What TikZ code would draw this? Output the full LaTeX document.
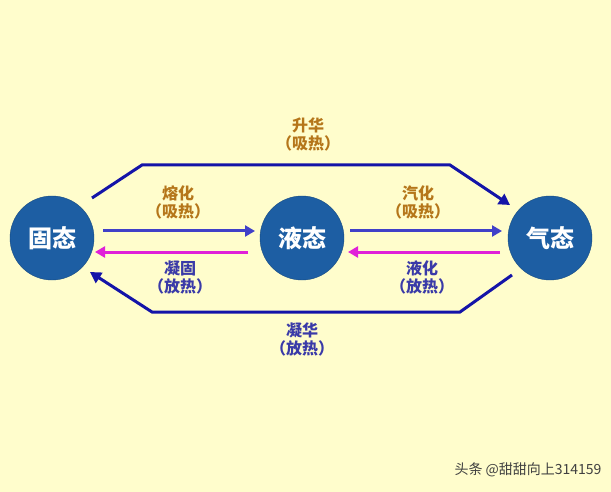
\documentclass[tikz,border=0pt]{standalone}
\usepackage{fontspec}
\newfontfamily\cjk{Noto Sans CJK SC}
\usetikzlibrary{arrows.meta}
\definecolor{bg}{HTML}{FFFDCC}
\definecolor{ball}{HTML}{1D5EA3}
\definecolor{absorb}{HTML}{B5761A}
\definecolor{release}{HTML}{3A3AA8}
\definecolor{arr}{HTML}{4040C8}
\definecolor{outer}{HTML}{1414A8}
\definecolor{back}{HTML}{E020D8}
\tikzset{
  state/.style={circle,fill=ball,draw=ball!80!black,minimum size=84pt,text=white,font=\cjk\fontsize{24}{26}\selectfont\bfseries},
  lab/.style={font=\cjk\fontsize{16}{18}\selectfont\bfseries,align=center},
  fwd/.style={arr,line width=3pt,-{Triangle[length=10pt,width=11pt]}},
  bwd/.style={back,line width=3pt,-{Triangle[length=10pt,width=11pt]}},
  loop/.style={outer,line width=3pt,-{Triangle[length=11pt,width=12pt]}}
}
\begin{document}
\begin{tikzpicture}[x=1pt,y=-1pt]
\fill[bg] (0,0) rectangle (611,492);
\useasboundingbox (0,0) rectangle (611,492);
\node[state] (solid) at (52,238) {固态};
\node[state] (liquid) at (302,238) {液态};
\node[state] (gas) at (550,238) {气态};
% outer paths
\draw[loop] (92,198) -- (142,165) -- (450,165) -- (510,205);
\draw[loop] (512,275) -- (460,312) -- (152,312) -- (90,272);
% inner arrows
\draw[fwd] (103,231) -- (255,231);
\draw[bwd] (248,252) -- (95,252);
\draw[fwd] (350,231) -- (502,231);
\draw[bwd] (500,252) -- (348,252);
% labels
\node[lab,text=absorb] (sublim) at (308,134) {升华\\（吸热）};
\node[lab,text=absorb] (melt) at (178,202) {熔化\\（吸热）};
\node[lab,text=absorb] (vapor) at (418,202) {汽化\\（吸热）};
\node[lab,text=release] (freeze) at (180,277) {凝固\\（放热）};
\node[lab,text=release] (cond) at (422,277) {液化\\（放热）};
\node[lab,text=release] (depos) at (302,339) {凝华\\（放热）};
\node[font=\cjk\fontsize{14}{16}\selectfont,text=black!75] (mark) at (528,470) {头条 @甜甜向上314159};
\end{tikzpicture}
\end{document}
